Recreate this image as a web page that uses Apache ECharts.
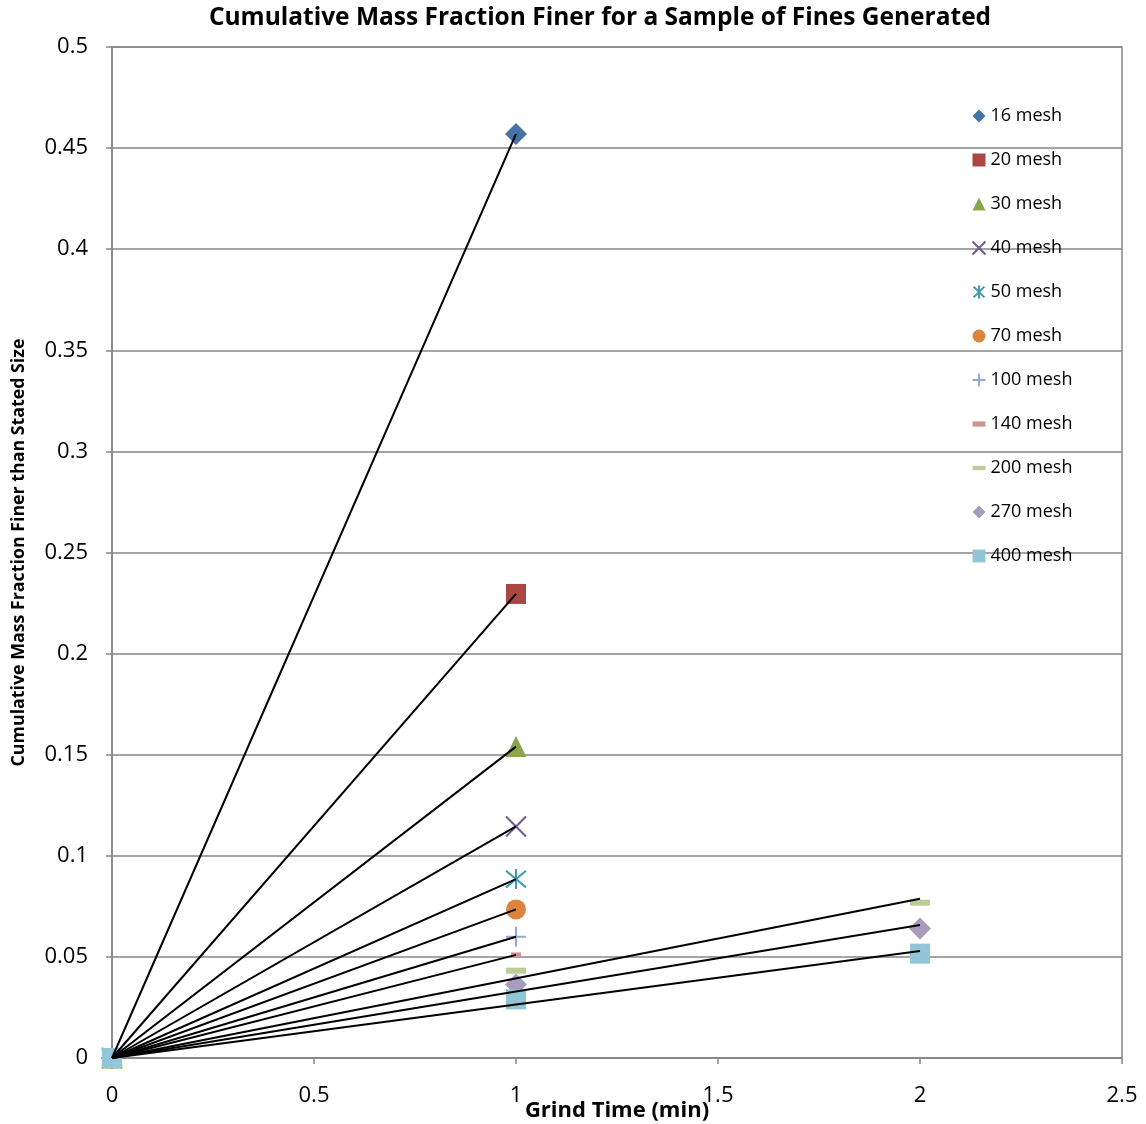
<!DOCTYPE html>
<html>
<head>
<meta charset="utf-8">
<title>Cumulative Mass Fraction Finer</title>
<script src="https://cdn.jsdelivr.net/npm/echarts@6/dist/echarts.min.js"></script>
<style>
  html, body { margin: 0; padding: 0; background: #fff; }
  #chart { width: 1146px; height: 1124px; }
</style>
</head>
<body>
<div id="chart"></div>
<script>
// Sieve fractions: cumulative mass fraction finer than each mesh size vs grind time
const meshNames = ['16 mesh', '20 mesh', '30 mesh', '40 mesh', '50 mesh', '70 mesh',
                   '100 mesh', '140 mesh', '200 mesh', '270 mesh', '400 mesh'];

const grindShort = [0, 1];        // minutes
const grindLong = [0, 1, 2];      // minutes

const mesh16 = [0, 0.457];
const mesh20 = [0, 0.2295];
const mesh30 = [0, 0.154];
const mesh40 = [0, 0.1145];
const mesh50 = [0, 0.0885];
const mesh70 = [0, 0.0735];
const mesh100 = [0, 0.060];
const mesh140 = [0, 0.051];
const mesh200 = [0, 0.0432, 0.0768];
const mesh270 = [0, 0.0364, 0.0640];
const mesh400 = [0, 0.029, 0.0516];

const xTicks = ['0', '0.5', '1', '1.5', '2', '2.5'];

const seriesValues = [mesh16, mesh20, mesh30, mesh40, mesh50, mesh70,
                      mesh100, mesh140, mesh200, mesh270, mesh400];

const colors = ['#4572A7', '#AA4643', '#89A54E', '#71588F', '#4198AF', '#DB843D',
                '#93A9CF', '#D19392', '#B9CD96', '#A99BBD', '#92C5D8'];

// marker shapes (stroke-only shapes are drawn with an outline and no fill)
const markers = [
  { symbol: 'diamond', size: 22 },
  { symbol: 'rect', size: 20 },
  { symbol: 'triangle', size: 21 },
  { symbol: 'path://M0,0L10,10M10,0L0,10', size: 20, stroke: true },
  { symbol: 'path://M0,0L10,10M10,0L0,10M5,-1L5,11', size: 20, stroke: true },
  { symbol: 'circle', size: 20 },
  { symbol: 'path://M5,0L5,10M0,5L10,5', size: 20, stroke: true },
  { symbol: 'rect', size: [10, 5], icon: 'path://M0,0h10v4h-10z' },
  { symbol: 'rect', size: [20, 6], icon: 'path://M0,0h12v4h-12z' },
  { symbol: 'diamond', size: 22 },
  { symbol: 'rect', size: 20 }
];

const FONT = '"Open Sans", Lato, sans-serif';

function pointsOf(vals) {
  const xs = vals.length === 3 ? grindLong : grindShort;
  return vals.map((v, i) => [xs[i], v]);
}

// least-squares line forced through the origin
function trendThroughOrigin(pts) {
  let sxy = 0, sxx = 0, xmax = 0;
  pts.forEach(([x, y]) => { sxy += x * y; sxx += x * x; xmax = Math.max(xmax, x); });
  const k = sxy / sxx;
  return [[0, 0], [xmax, k * xmax]];
}

const scatterSeries = meshNames.map((name, i) => {
  const m = markers[i];
  const itemStyle = m.stroke
    ? { color: 'none', borderColor: colors[i], borderWidth: 2, opacity: 1 }
    : { color: colors[i], opacity: 1 };
  return {
    name: name,
    type: 'scatter',
    symbol: m.symbol,
    symbolSize: m.size,
    itemStyle: itemStyle,
    data: pointsOf(seriesValues[i]),
    z: 2 + i * 0.01
  };
});

const trendSeries = meshNames.map((name, i) => ({
  name: name + ' trend',
  type: 'line',
  data: trendThroughOrigin(pointsOf(seriesValues[i])),
  showSymbol: false,
  symbol: 'none',
  lineStyle: { color: '#000', width: 2 },
  silent: true,
  z: 5
}));

const legendData = meshNames.map((name, i) => {
  const item = { name: name };
  if (markers[i].icon) item.icon = markers[i].icon;
  return item;
});

const chart = echarts.init(document.getElementById('chart'), null, { renderer: 'canvas' });

chart.setOption({
  backgroundColor: '#fff',
  animation: false,
  graphic: [{
    type: 'text',
    x: 600,
    y: 18,
    style: {
      text: 'Cumulative Mass Fraction Finer for a Sample of Fines Generated',
      font: 'bold 24.5px ' + FONT,
      fill: '#000',
      align: 'center',
      verticalAlign: 'middle'
    }
  }],
  grid: {
    left: 112, right: 24, top: 47, bottom: 66,
    show: true, borderColor: '#868686', borderWidth: 1.5,
    outerBoundsMode: 'none'
  },
  legend: {
    orient: 'vertical',
    left: 965,
    top: 102,
    itemWidth: 13,
    itemHeight: 13,
    itemGap: 26,
    data: legendData,
    textStyle: { fontFamily: FONT, fontSize: 18, color: '#000' }
  },
  xAxis: {
    type: 'value',
    min: 0, max: 2.5, interval: 0.5,
    name: 'Grind Time (min)',
    nameLocation: 'middle',
    nameGap: 42,
    nameMoveOverlap: false,
    nameTextStyle: { fontFamily: FONT, fontSize: 22, fontWeight: 'bold', color: '#000' },
    axisLine: { show: true, lineStyle: { color: '#868686', width: 1.5 } },
    axisTick: { show: true, length: 6, lineStyle: { color: '#868686', width: 1.5 } },
    axisLabel: {
      fontFamily: FONT, fontSize: 22, color: '#000', margin: 27,
      formatter: (v) => xTicks[Math.round(v / 0.5)]
    },
    splitLine: { show: false }
  },
  yAxis: {
    type: 'value',
    min: 0, max: 0.5, interval: 0.05,
    name: 'Cumulative Mass Fraction Finer than Stated Size',
    nameLocation: 'middle',
    nameGap: 84,
    nameMoveOverlap: false,
    nameTextStyle: { fontFamily: FONT, fontSize: 17.8, fontWeight: 'bold', color: '#000' },
    axisLine: { show: true, lineStyle: { color: '#868686', width: 1.5 } },
    axisTick: { show: true, length: 6, lineStyle: { color: '#868686', width: 1.5 } },
    axisLabel: {
      fontFamily: FONT, fontSize: 22, color: '#000', margin: 24,
      formatter: (v) => String(Math.round(v * 100) / 100)
    },
    splitLine: { show: true, lineStyle: { color: '#868686', width: 1.5 } }
  },
  series: scatterSeries.concat(trendSeries)
});
</script>
</body>
</html>
